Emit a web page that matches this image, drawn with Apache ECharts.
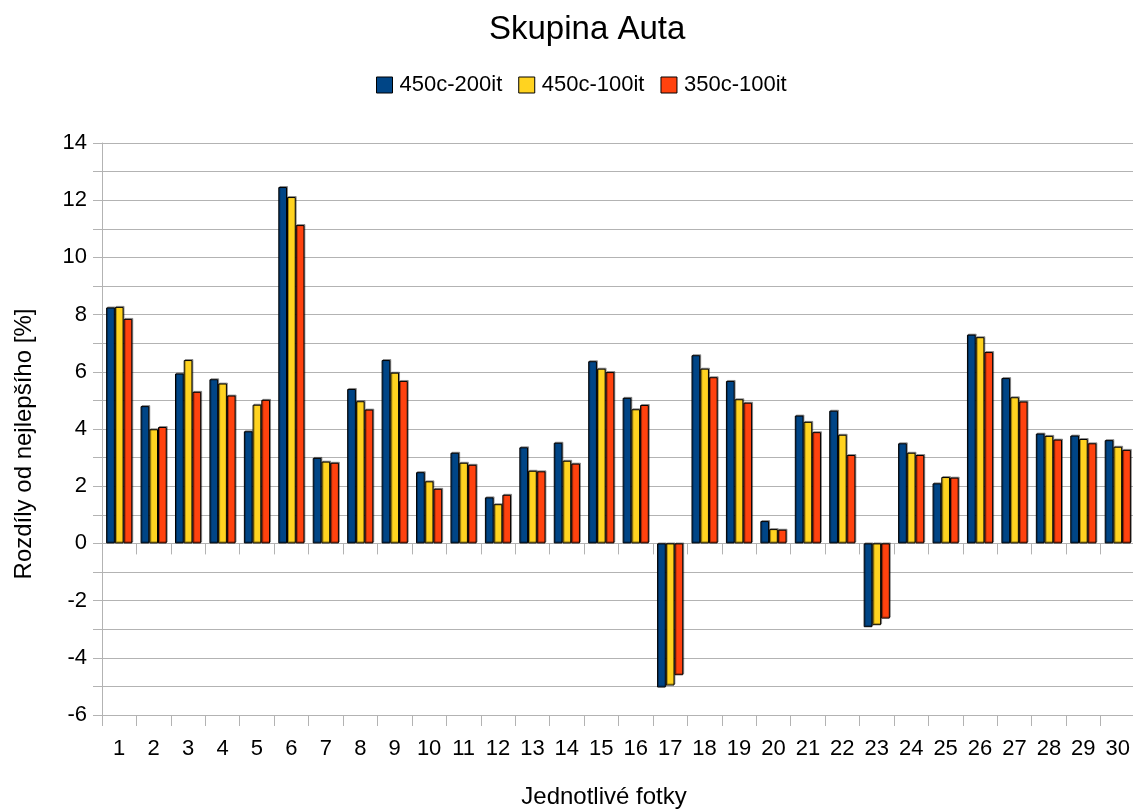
<!DOCTYPE html>
<html>
<head>
<meta charset="UTF-8">
<title>Skupina Auta</title>
<script src="https://cdn.jsdelivr.net/npm/echarts@6/dist/echarts.min.js"></script>
<style>
  *{margin:0;padding:0;}
  body{background:#fff;overflow:hidden;}
  #main{width:1133px;height:809px;}
</style>
</head>
<body>
<div id="main"></div>
<script>
// kategorie = jednotlive fotky
var fotky = [];
for (var i = 1; i <= 30; i++) fotky.push(String(i));

var s450c200it = [8.25, 4.80, 5.94, 5.74, 3.92, 12.46, 2.99, 5.40, 6.41, 2.49,
                  3.17, 1.61, 3.36, 3.52, 6.37, 5.09, -5.04, 6.58, 5.68, 0.78,
                  4.47, 4.64, -2.93, 3.50, 2.10, 7.30, 5.78, 3.84, 3.77, 3.61];
var s450c100it = [8.27, 3.99, 6.41, 5.59, 4.85, 12.11, 2.86, 4.97, 5.97, 2.17,
                  2.82, 1.37, 2.54, 2.89, 6.11, 4.69, -4.97, 6.11, 5.04, 0.50,
                  4.25, 3.80, -2.86, 3.17, 2.32, 7.21, 5.11, 3.76, 3.65, 3.38];
var s350c100it = [7.85, 4.07, 5.30, 5.17, 5.02, 11.13, 2.82, 4.68, 5.68, 1.91,
                  2.75, 1.70, 2.52, 2.79, 5.99, 4.84, -4.61, 5.81, 4.92, 0.48,
                  3.89, 3.09, -2.63, 3.09, 2.30, 6.69, 4.96, 3.63, 3.50, 3.27];

var nazvy = ['450c-200it', '450c-100it', '350c-100it'];
var barvy = ['#004586', '#ffd320', '#ff420e'];

var seda = '#b3b3b3';
var font = 'Liberation Sans';

function serie(idx, data) {
  return {
    name: nazvy[idx],
    type: 'bar',
    xAxisIndex: 0,
    data: data,
    barGap: '0%',
    barCategoryGap: '24%',
    itemStyle: {
      color: barvy[idx],
      borderColor: '#000',
      borderWidth: 1,
      shadowColor: 'rgba(0,0,0,0.35)',
      shadowOffsetX: 1,
      shadowOffsetY: -1
    }
  };
}

var myChart = echarts.init(document.getElementById('main'));

var option = {
  animation: false,
  textStyle: { fontFamily: font },
  color: barvy,
  title: {
    text: 'Skupina Auta',
    left: 484,
    top: 8,
    textStyle: { fontFamily: font, fontSize: 33, fontWeight: 'normal', color: '#000' }
  },
  legend: {
    data: nazvy,
    left: 371,
    top: 69,
    itemWidth: 16,
    itemHeight: 16,
    itemGap: 16,
    icon: 'rect',
    textStyle: { fontFamily: font, fontSize: 22, color: '#000', padding: [0, 0, 0, 2] },
    itemStyle: { borderColor: '#000', borderWidth: 1 }
  },
  grid: {
    left: 102,
    top: 143,
    width: 1033,
    height: 572,
    containLabel: false,
    outerBoundsMode: 'none'
  },
  xAxis: [
    {
      type: 'category',
      data: fotky,
      position: 'bottom',
      name: 'Jednotlivé fotky',
      nameLocation: 'middle',
      nameGap: 70,
      nameTextStyle: { fontFamily: font, fontSize: 24, color: '#000', padding: [0, 29, 0, 0] },
      axisLine: { show: true, onZero: false, lineStyle: { color: seda } },
      axisTick: { show: true, length: 11, lineStyle: { color: seda } },
      axisLabel: { fontFamily: font, fontSize: 22, color: '#000', margin: 23 },
      splitLine: { show: false }
    },
    {
      type: 'category',
      data: fotky,
      position: 'bottom',
      axisLine: { show: true, onZero: true, lineStyle: { color: seda } },
      axisTick: { show: true, length: 11, lineStyle: { color: seda } },
      axisLabel: { show: false },
      splitLine: { show: false }
    }
  ],
  yAxis: {
    type: 'value',
    min: -6,
    max: 14,
    interval: 2,
    name: 'Rozdíly od nejlepšího [%]',
    nameLocation: 'middle',
    nameGap: 66,
    nameTextStyle: { fontFamily: font, fontSize: 24, color: '#000', padding: [0, 30, 0, 0] },
    axisLine: { show: true, lineStyle: { color: seda } },
    axisTick: { show: true, length: 9, lineStyle: { color: seda } },
    minorTick: { show: true, splitNumber: 2, length: 9, lineStyle: { color: seda } },
    axisLabel: { fontFamily: font, fontSize: 22, color: '#000', margin: 15 },
    splitLine: { show: true, lineStyle: { color: seda, width: 1 } },
    minorSplitLine: { show: true, lineStyle: { color: seda, width: 1 } }
  },
  series: [
    serie(0, s450c200it),
    serie(1, s450c100it),
    serie(2, s350c100it)
  ]
};

myChart.setOption(option);
</script>
</body>
</html>
